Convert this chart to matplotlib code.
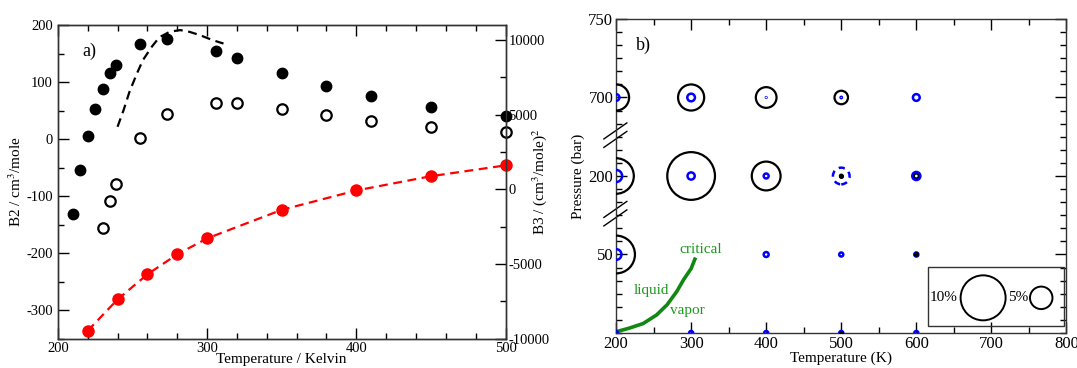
import numpy as np
import matplotlib
matplotlib.use('Agg')
import matplotlib.pyplot as plt
from matplotlib.ticker import MultipleLocator, FixedLocator
from matplotlib.patches import Rectangle

plt.rcParams['font.family'] = ['Liberation Serif', 'DejaVu Serif']
plt.rcParams['mathtext.fontset'] = 'stix'
plt.rcParams['axes.unicode_minus'] = False

# ---- panel a) data ----
T_b2 = [220, 240, 260, 280, 300, 350, 400, 450, 500]
B2_red = [-336, -281, -237, -202, -174, -124, -90, -65, -46]

T_filled = [210, 215, 220, 225, 230, 235, 239, 255, 273, 306, 320, 350, 380, 410, 450, 500]
B3_filled = [-1670, 1270, 3570, 5350, 6690, 7760, 8320, 9720, 10040, 9240, 8790, 7780, 6910, 6220, 5510, 4890]

T_open = [230, 235, 239, 255, 273, 306, 320, 350, 380, 410, 450, 500]
B3_open = [-2610, -800, 380, 3450, 5060, 5800, 5760, 5400, 4970, 4590, 4190, 3820]

T_fit = [240, 244, 248, 253, 257, 263, 268, 275, 282, 288, 295, 304, 311]
B3_fit = [4190, 5290, 6530, 7760, 8650, 9550, 10180, 10550, 10660, 10550, 10330, 9980, 9760]

# ---- panel b) data ----
T_grid = [200, 300, 400, 500, 600]
P_nodes = [0, 50, 200, 700, 750]
black_700 = [5.8, 5.8, 4.6, 3.0, np.nan]
blue_700 = [1.5, 1.7, 0.15, 0.3, 1.5]
black_200 = [7.9, 10.6, 6.4, 0.6, 1.1]
blue_200 = [2.7, 1.6, 1.1, 3.7, 1.8]
black_50 = [8.4, np.nan, np.nan, np.nan, 0.7]
blue_50 = [2.4, np.nan, 1.1, 0.9, 0.9]
black_0 = [np.nan, np.nan, np.nan, 0.5, np.nan]
blue_0 = [0.9, 0.9, 0.9, 0.9, 0.9]
blue_dashed = {(500, 200)}

T_sat = [200, 217, 236, 254, 268, 281, 290, 300, 305]
P_sat = [0.8, 3, 6, 11.5, 18, 26.5, 34, 41, 47]

fig = plt.figure(figsize=(10.77, 3.68), dpi=100)

# ================= panel a =================
ax1 = fig.add_axes([0.0537, 0.0793, 0.4157, 0.8527])
ax2 = ax1.twinx()

ax1.plot(T_b2, B2_red, '--', color='red', lw=1.6, dashes=(4, 2.5), zorder=3)
ax1.plot(T_b2, B2_red, 'o', color='red', ms=8, zorder=4, clip_on=False)

ax2.plot(T_fit, B3_fit, '--', color='black', lw=1.6, dashes=(4, 2.5))
ax2.plot(T_filled, B3_filled, 'o', color='black', ms=7.5, clip_on=False)
ax2.plot(T_open, B3_open, 'o', mfc='none', mec='black', mew=1.6, ms=7.5, clip_on=False)

ax1.set_xlim(200, 500)
ax1.set_ylim(-350, 200)
ax2.set_ylim(-10000, 11000)
ax1.xaxis.set_major_locator(MultipleLocator(100))
ax1.xaxis.set_minor_locator(MultipleLocator(20))
ax1.yaxis.set_major_locator(MultipleLocator(100))
ax1.yaxis.set_minor_locator(MultipleLocator(50))
ax2.yaxis.set_major_locator(MultipleLocator(5000))
ax2.yaxis.set_minor_locator(MultipleLocator(2500))
ax1.tick_params(which='both', direction='in', top=True, labelsize=10.5, width=1)
ax1.tick_params(which='major', length=8)
ax1.tick_params(which='minor', length=4)
ax1.tick_params(axis='x', pad=2)
ax2.tick_params(which='both', direction='in', labelsize=10.5, width=1, pad=2)
ax2.tick_params(which='major', length=8)
ax2.tick_params(which='minor', length=4)
for a in (ax1, ax2):
    for s in a.spines.values():
        s.set_linewidth(1.0)
        s.set_color('#333333')

ax1.set_xlabel('Temperature / Kelvin', fontsize=11, labelpad=-1)
ax1.set_ylabel('B2 / cm$^3$/mole', fontsize=11, labelpad=2)
ax2.set_ylabel('B3 / (cm$^3$/mole)$^2$', fontsize=11, labelpad=-14)
ax1.text(0.055, 0.9, 'a)', transform=ax1.transAxes, fontsize=13)

# ================= panel b =================
idx = np.arange(len(P_nodes), dtype=float)


def fwd(p):
    return np.interp(p, P_nodes, idx)


def inv(i):
    return np.interp(i, idx, P_nodes)


bx = fig.add_axes([0.572, 0.0951, 0.4182, 0.8533])
bx.set_yscale('function', functions=(fwd, inv))
bx.set_xlim(200, 800)
bx.set_ylim(0, 750)


def size(pct):
    return (3.24 * np.asarray(pct, dtype=float)) ** 2


levels = [(700, black_700, blue_700), (200, black_200, blue_200),
          (50, black_50, blue_50), (0, black_0, blue_0)]
for P, blk, blu in levels:
    Py = [P] * len(T_grid)
    bx.scatter(T_grid, Py, s=size(blk), facecolors='none', edgecolors='black',
               linewidths=1.6, zorder=3)
    for t, b in zip(T_grid, blu):
        if np.isnan(b):
            continue
        ls = (0, (2.5, 2)) if (t, P) in blue_dashed else 'solid'
        bx.scatter([t], [P], s=size([b]), facecolors='none', edgecolors='blue',
                   linewidths=1.8, linestyles=[ls], zorder=4)
    # tiny filled centres
    for t, k in zip(T_grid, blk):
        if not np.isnan(k) and k < 0.8:
            bx.scatter([t], [P], s=7, color='black', zorder=5)

bx.plot(T_sat, P_sat, color='#118811', lw=2.6, zorder=2)
bx.text(284, 49, 'critical', fontsize=11, color='#1a9a1a', va='bottom')
bx.text(224, 23, 'liquid', fontsize=11, color='#1a9a1a', va='bottom')
bx.text(272, 10.5, 'vapor', fontsize=11, color='#1a9a1a', va='bottom')

bx.set_yticks([50, 200, 700, 750])
bx.set_yticklabels(['50', '200', '700', '750'])
bx.yaxis.set_minor_locator(FixedLocator(inv(np.arange(0, 4.001, 1 / 6.0))))
bx.xaxis.set_major_locator(MultipleLocator(100))
bx.xaxis.set_minor_locator(MultipleLocator(50))
bx.tick_params(which='both', direction='in', top=True, right=True, labelsize=12, width=1)
bx.tick_params(which='major', length=8, pad=2)
bx.tick_params(which='minor', length=4)
for s in bx.spines.values():
    s.set_linewidth(1.0)
    s.set_color('#333333')
bx.set_xlabel('Temperature (K)', fontsize=11, labelpad=0)
bx.set_ylabel('Pressure (bar)', fontsize=11, labelpad=2)
bx.text(0.045, 0.9, 'b)', transform=bx.transAxes, fontsize=13)

# axis break marks
for yc in (0.63, 0.38):
    for dy in (0.0, -0.027):
        bx.plot([-0.027, 0.024], [yc - 0.012 + dy, yc + 0.039 + dy], color='black',
                lw=1.0, transform=bx.transAxes, clip_on=False)

# size key
bx.add_patch(Rectangle((0.693, 0.022), 0.302, 0.188, transform=bx.transAxes,
                       fill=False, lw=1.0, ec='#333333', zorder=6))
bx.scatter([0.815, 0.944], [0.112, 0.112], s=size([10, 5]), facecolors='none',
           edgecolors='black', linewidths=1.4, transform=bx.transAxes, zorder=7)
bx.text(0.759, 0.112, '10%', transform=bx.transAxes, ha='right', va='center', fontsize=11)
bx.text(0.915, 0.112, '5%', transform=bx.transAxes, ha='right', va='center', fontsize=11)

fig.savefig('out.png', dpi=100)
